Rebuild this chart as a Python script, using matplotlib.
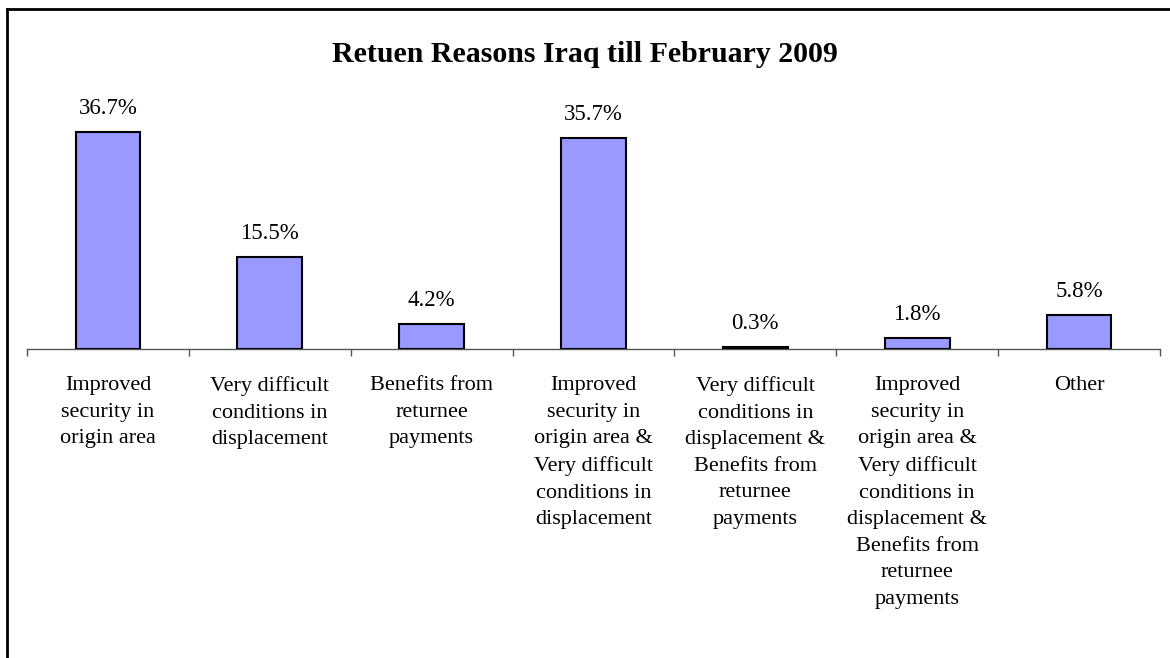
import matplotlib
matplotlib.use("Agg")
import matplotlib.pyplot as plt
from matplotlib.lines import Line2D

categories = [
    "Improved\nsecurity in\norigin area",
    "Very difficult\nconditions in\ndisplacement",
    "Benefits from\nreturnee\npayments",
    "Improved\nsecurity in\norigin area &\nVery difficult\nconditions in\ndisplacement",
    "Very difficult\nconditions in\ndisplacement &\nBenefits from\nreturnee\npayments",
    "Improved\nsecurity in\norigin area &\nVery difficult\nconditions in\ndisplacement &\nBenefits from\nreturnee\npayments",
    "Other",
]
values = [36.7, 15.5, 4.2, 35.7, 0.3, 1.8, 5.8]
value_labels = ["36.7%", "15.5%", "4.2%", "35.7%", "0.3%", "1.8%", "5.8%"]
title = "Retuen Reasons Iraq till February 2009"

plt.rcParams['font.family'] = ['Liberation Serif', 'DejaVu Serif']

W, H = 1170, 658
fig = plt.figure(figsize=(W / 100, H / 100), dpi=100)
fig.patch.set_facecolor('white')

# axes: baseline at y=349px, left 27px, right 1160px
bottom_px = 349
top_px = 100
ax = fig.add_axes([27 / W, (H - bottom_px) / H, (1160 - 27) / W, (bottom_px - top_px) / H])
px_per_unit = 217 / 36.7
ax.set_ylim(0, (bottom_px - top_px) / px_per_unit)
x = list(range(len(values)))
ax.set_xlim(-0.5, len(values) - 0.5)

ax.bar(x, values, width=0.40, color='#9999FF', edgecolor='black', linewidth=1.5, zorder=3)

for xi, v, lab in zip(x, values, value_labels):
    ax.annotate(lab, (xi, v), xytext=(0, 13), textcoords='offset points',
                ha='center', va='baseline', fontsize=16.5)

for s in ['top', 'right', 'left']:
    ax.spines[s].set_visible(False)
ax.spines['bottom'].set_color('#555555')
ax.spines['bottom'].set_linewidth(1.0)
ax.set_yticks([])

ax.set_xticks(x)
ax.set_xticklabels(categories, fontsize=16, linespacing=1.54, va='top', ha='center')
ax.tick_params(axis='x', which='major', length=0, pad=19.5)
ax.set_xticks([i - 0.5 for i in range(len(values) + 1)], minor=True)
ax.tick_params(axis='x', which='minor', length=5, width=1.0, color='#555555', direction='out')

fig.text(585 / W, 1 - 54 / H, title, ha='center', va='center', fontsize=21.5, fontweight='bold')

# border lines top and left
fig.add_artist(Line2D([7 / W, 1], [1 - 9 / H, 1 - 9 / H], transform=fig.transFigure, color='black', linewidth=2))
fig.add_artist(Line2D([7 / W, 7 / W], [0, 1 - 9 / H], transform=fig.transFigure, color='black', linewidth=2))

fig.savefig('out.png', dpi=100, facecolor='white')
